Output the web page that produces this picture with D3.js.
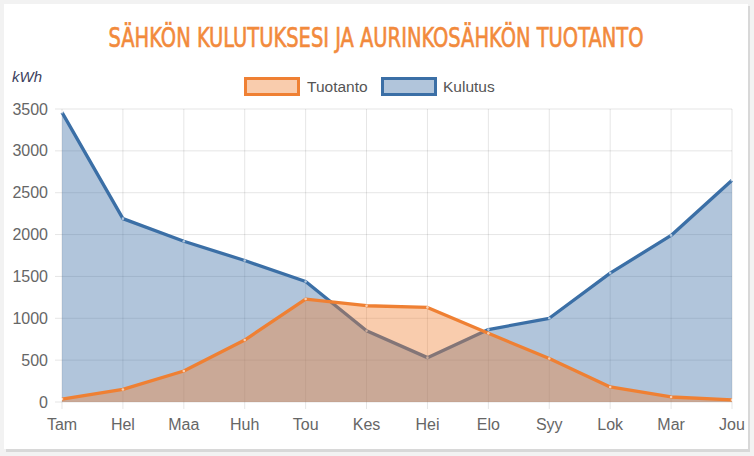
<!DOCTYPE html>
<html>
<head>
<meta charset="utf-8">
<script src="https://cdn.jsdelivr.net/npm/d3@7"></script>
<style>
  body { margin: 0; background: #f2f2f2; }
  #chart { width: 754px; height: 456px; }
</style>
</head>
<body>
<div id="chart"></div>
<script>
var months = ["Tam", "Hel", "Maa", "Huh", "Tou", "Kes", "Hei", "Elo", "Syy", "Lok", "Mar", "Jou"];
var tuotanto = [35, 150, 370, 740, 1230, 1150, 1130, 820, 520, 180, 60, 25];
var kulutus = [3460, 2190, 1920, 1690, 1440, 850, 530, 865, 1000, 1540, 1990, 2650];
var yTicks = [0, 500, 1000, 1500, 2000, 2500, 3000, 3500];

function init() {
    var w = 754;
    var h = 456;
    var orange = "#ef8033";
    var blue = "#3b6fa6";

    var svg = d3.select("#chart")
        .append("svg")
        .attr("width", w)
        .attr("height", h);

    // card with a soft shadow
    svg.append("rect")
        .attr("x", 6).attr("y", 6)
        .attr("width", 744).attr("height", 446)
        .attr("fill", "#d8d8d8");
    svg.append("rect")
        .attr("x", 4).attr("y", 4)
        .attr("width", 744).attr("height", 445)
        .attr("fill", "#fff");

    var xScale = d3.scalePoint()
        .domain(months)
        .range([62, 732]);

    var yScale = d3.scaleLinear()
        .domain([0, 3500])
        .range([402, 109]);

    // grid lines
    svg.append("g")
        .selectAll("line")
        .data(yTicks)
        .enter()
        .append("line")
        .attr("x1", 55).attr("x2", 732)
        .attr("y1", function (d) { return yScale(d); })
        .attr("y2", function (d) { return yScale(d); })
        .attr("stroke", "rgba(0,0,0,0.1)");

    svg.append("g")
        .selectAll("line")
        .data(months)
        .enter()
        .append("line")
        .attr("x1", function (d) { return xScale(d); })
        .attr("x2", function (d) { return xScale(d); })
        .attr("y1", 109).attr("y2", 409)
        .attr("stroke", "rgba(0,0,0,0.1)");

    // tick labels
    svg.append("g")
        .selectAll("text")
        .data(yTicks)
        .enter()
        .append("text")
        .attr("x", 48)
        .attr("y", function (d) { return yScale(d); })
        .attr("dy", "0.35em")
        .attr("text-anchor", "end")
        .attr("font-family", "Liberation Sans, Arial, sans-serif")
        .attr("font-size", 16)
        .attr("fill", "#666")
        .text(function (d) { return d; });

    svg.append("g")
        .selectAll("text")
        .data(months)
        .enter()
        .append("text")
        .attr("x", function (d) { return xScale(d); })
        .attr("y", 430)
        .attr("text-anchor", "middle")
        .attr("font-family", "Liberation Sans, Arial, sans-serif")
        .attr("font-size", 16)
        .attr("fill", "#666")
        .text(function (d) { return d; });

    var area = function (vals) {
        return d3.area()
            .x(function (d, i) { return xScale(months[i]); })
            .y0(yScale(0))
            .y1(function (d) { return yScale(d); })(vals);
    };
    var line = function (vals) {
        return d3.line()
            .x(function (d, i) { return xScale(months[i]); })
            .y(function (d) { return yScale(d); })(vals);
    };

    function drawSeries(vals, color, fill) {
        svg.append("path")
            .attr("d", area(vals))
            .attr("fill", fill);
        svg.append("path")
            .attr("d", line(vals))
            .attr("fill", "none")
            .attr("stroke", color)
            .attr("stroke-width", 3.3)
            .attr("stroke-linejoin", "round");
        svg.append("g")
            .selectAll("circle")
            .data(vals)
            .enter()
            .append("circle")
            .attr("cx", function (d, i) { return xScale(months[i]); })
            .attr("cy", function (d) { return yScale(d); })
            .attr("r", 1.3)
            .attr("fill", "rgba(255,255,255,0.6)");
    }

    // Kulutus behind, Tuotanto on top
    drawSeries(kulutus, blue, "rgba(59,111,166,0.4)");
    drawSeries(tuotanto, orange, "rgba(239,128,51,0.4)");

    // title
    svg.append("text")
        .attr("x", 376)
        .attr("y", 47)
        .attr("text-anchor", "middle")
        .attr("textLength", 535)
        .attr("lengthAdjust", "spacingAndGlyphs")
        .attr("font-family", "Liberation Sans Narrow, DejaVu Sans Condensed, sans-serif")
        .attr("font-size", 26)
        .attr("fill", "#f28a3c")
        .attr("stroke", "#f28a3c")
        .attr("stroke-width", 0.6)
        .text("SÄHKÖN KULUTUKSESI JA AURINKOSÄHKÖN TUOTANTO");

    // y axis unit
    svg.append("text")
        .attr("x", 12)
        .attr("y", 82)
        .attr("font-family", "Liberation Sans, Arial, sans-serif")
        .attr("font-style", "italic")
        .attr("font-size", 15)
        .attr("fill", "#3c3f5e")
        .text("kWh");

    // legend
    var legend = [
        { name: "Tuotanto", color: orange, fill: "rgba(239,128,51,0.4)", x: 244, tx: 307 },
        { name: "Kulutus", color: blue, fill: "rgba(59,111,166,0.4)", x: 381, tx: 443 }
    ];
    var lg = svg.append("g")
        .selectAll("g")
        .data(legend)
        .enter()
        .append("g");
    lg.append("rect")
        .attr("x", function (d) { return d.x + 1.5; })
        .attr("y", 78.5)
        .attr("width", 53)
        .attr("height", 16)
        .attr("fill", function (d) { return d.fill; })
        .attr("stroke", function (d) { return d.color; })
        .attr("stroke-width", 3);
    lg.append("text")
        .attr("x", function (d) { return d.tx; })
        .attr("y", 92)
        .attr("font-family", "Liberation Sans, Arial, sans-serif")
        .attr("font-size", 15.5)
        .attr("fill", "#555")
        .text(function (d) { return d.name; });
}

window.onload = init;
</script>
</body>
</html>
